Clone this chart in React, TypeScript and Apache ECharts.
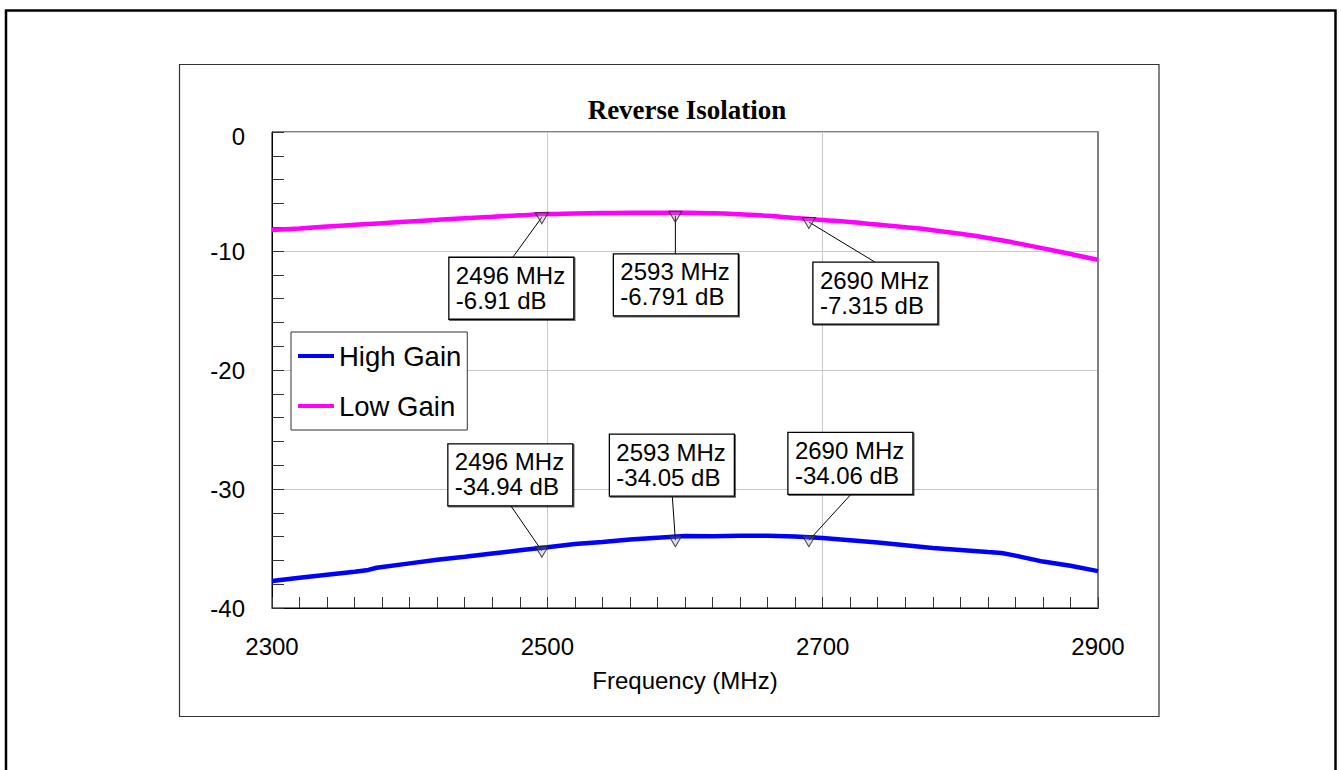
import React, { useEffect, useRef } from "react";
import * as echarts from "echarts";

// ---------- data ----------
const lowFreq = [2300, 2320, 2340, 2360, 2380, 2400, 2420, 2440, 2460, 2480, 2500, 2520, 2540, 2560, 2580, 2600, 2620, 2640, 2660, 2680, 2700, 2720, 2740, 2760, 2780, 2800, 2820, 2840, 2860, 2880, 2900];
const lowGain = [-8.24, -8.1, -7.95, -7.8, -7.66, -7.52, -7.38, -7.24, -7.12, -7.0, -6.9, -6.85, -6.81, -6.79, -6.78, -6.79, -6.83, -6.92, -7.04, -7.23, -7.4, -7.57, -7.78, -8.0, -8.25, -8.55, -8.9, -9.32, -9.78, -10.25, -10.75];

const highFreq = [2300, 2320, 2340, 2360, 2370, 2376, 2400, 2420, 2440, 2460, 2480, 2500, 2520, 2540, 2560, 2580, 2600, 2620, 2640, 2660, 2680, 2700, 2720, 2740, 2760, 2780, 2800, 2820, 2830, 2840, 2860, 2880, 2900];
const highGain = [-37.73, -37.45, -37.2, -36.95, -36.8, -36.62, -36.25, -35.95, -35.7, -35.42, -35.15, -34.9, -34.62, -34.45, -34.25, -34.1, -33.95, -33.97, -33.92, -33.93, -34.0, -34.12, -34.3, -34.5, -34.72, -34.95, -35.12, -35.3, -35.38, -35.6, -36.1, -36.45, -36.9];

const markerFreqs = [2496, 2593, 2690];
const lowMarkerVals = [-6.91, -6.791, -7.315];
const highMarkerVals = [-34.94, -34.05, -34.06];

const seriesNames = ["High Gain", "Low Gain"];
const titleText = "Reverse Isolation";
const xAxisName = "Frequency (MHz)";

// annotation box offsets relative to marker pixel (layout only)
const lowBoxOffsets = [[-93, 43], [-62, 41], [4, 43]];
const lowLineAnchor = [[-29, 43], [0, 41], [66, 43]];
const highBoxOffsets = [[-94, -104], [-66, -103], [-21, -105]];
const highLineAnchor = [[-31, -42], [-3, -40], [43, -44]];

const FONT = "Liberation Sans, Arial, sans-serif";

export default function App() {
  const ref = useRef<HTMLDivElement>(null);
  useEffect(() => {
    document.body.style.margin = "0";
    const chart = echarts.init(ref.current!, null, { renderer: "svg" });
    const option: any = {
      animation: false,
      backgroundColor: "#fff",
      title: {
        text: titleText,
        left: 687,
        top: 96,
        padding: 0,
        textAlign: "center",
        textStyle: { fontFamily: "Liberation Serif, Times New Roman, serif", fontWeight: "bold", fontSize: 27, color: "#000" },
      },
      legend: {
        data: seriesNames,
        orient: "vertical",
        left: 291,
        top: 332,
        padding: [9, 6, 9, 7],
        itemGap: 20,
        itemWidth: 36,
        itemHeight: 4,
        icon: "rect",
        backgroundColor: "#fff",
        borderColor: "#333",
        borderWidth: 1,
        textStyle: { fontFamily: FONT, fontSize: 27.5, color: "#000", lineHeight: 30 },
        z: 10,
      },
      grid: {
        left: 272,
        top: 132,
        width: 826,
        height: 476,
        show: true,
        borderColor: "#000",
        borderWidth: 1,
        backgroundColor: "transparent",
      },
      xAxis: {
        type: "value",
        min: 2300,
        max: 2900,
        interval: 200,
        name: xAxisName,
        nameLocation: "middle",
        nameGap: 60,
        nameTextStyle: { fontFamily: FONT, fontSize: 24, color: "#000" },
        axisLine: { show: true, onZero: false, lineStyle: { color: "#000", width: 1 } },
        axisTick: { show: true, inside: true, length: 11, lineStyle: { color: "#333" } },
        minorTick: { show: true, splitNumber: 10, length: 11, lineStyle: { color: "#333" } },
        splitLine: { show: true, lineStyle: { color: "#c8c8c8", width: 1 } },
        axisLabel: { fontFamily: FONT, fontSize: 24, color: "#000", margin: 26, formatter: (v: number) => String(v) },
      },
      yAxis: [
        {
          type: "value",
          min: -40,
          max: 0,
          interval: 10,
          axisLine: { show: true, onZero: false, lineStyle: { color: "#000", width: 1 } },
          axisTick: { show: true, inside: true, length: 12, lineStyle: { color: "#333" } },
          minorTick: { show: true, splitNumber: 5, length: 12, lineStyle: { color: "#333" } },
          splitLine: { show: true, lineStyle: { color: "#c8c8c8", width: 1 } },
          axisLabel: {
            fontFamily: FONT,
            fontSize: 24,
            color: "#000",
            margin: 27,
            formatter: (v: number) => (v === 0 ? "{z|0}" : String(v)),
            rich: { z: { fontFamily: FONT, fontSize: 24, color: "#000", padding: [9, 0, 0, 0] } },
          },
        },
        {
          type: "value",
          min: -40,
          max: 0,
          interval: 10,
          position: "right",
          axisLine: { show: true, onZero: false, lineStyle: { color: "#808080", width: 2 } },
          axisTick: { show: false },
          axisLabel: { show: false },
          splitLine: { show: false },
        },
      ],
      series: [
        {
          name: seriesNames[0],
          type: "line",
          data: highFreq.map((f, i) => [f, highGain[i]]),
          showSymbol: false,
          smooth: false,
          lineStyle: { color: "#0000ff", width: 4.5 },
          itemStyle: { color: "#0000ff" },
          z: 3,
        },
        {
          name: seriesNames[1],
          type: "line",
          data: lowFreq.map((f, i) => [f, lowGain[i]]),
          showSymbol: false,
          smooth: true,
          lineStyle: { color: "#ff00ff", width: 4.5 },
          itemStyle: { color: "#ff00ff" },
          z: 3,
        },
        {
          name: "High markers",
          type: "scatter",
          data: markerFreqs.map((f, i) => [f, highMarkerVals[i]]),
          symbol: "triangle",
          symbolRotate: 180,
          symbolSize: [13, 11],
          symbolOffset: [0, 4],
          itemStyle: { color: "rgba(150,150,150,0.35)", borderColor: "#222", borderWidth: 1 },
          z: 6,
        },
        {
          name: "Low markers",
          type: "scatter",
          data: markerFreqs.map((f, i) => [f, lowMarkerVals[i]]),
          symbol: "triangle",
          symbolRotate: 180,
          symbolSize: [13, 11],
          symbolOffset: [0, 4],
          itemStyle: { color: "rgba(150,150,150,0.35)", borderColor: "#222", borderWidth: 1 },
          z: 6,
        },
      ],
    };
    chart.setOption(option);

    const graphics: any[] = [
      {
        type: "rect",
        shape: { x: 6, y: 10.5, width: 1329.5, height: 800 },
        style: { fill: "none", stroke: "#000", lineWidth: 2.5 },
        silent: true,
        z: 0,
      },
      {
        type: "rect",
        shape: { x: 179.5, y: 64.5, width: 979.5, height: 652 },
        style: { fill: "none", stroke: "#333", lineWidth: 1.2 },
        silent: true,
        z: 0,
      },
    ];

    const addAnnots = (vals: number[], offsets: number[][], anchors: number[][]) => {
      markerFreqs.forEach((f, i) => {
        const p = chart.convertToPixel({ gridIndex: 0 }, [f, vals[i]]) as number[];
        const bx = p[0] + offsets[i][0];
        const by = p[1] + offsets[i][1];
        const ax = p[0] + anchors[i][0];
        const ay = p[1] + anchors[i][1];
        graphics.push({
          type: "line",
          shape: { x1: ax, y1: ay, x2: p[0], y2: p[1] + 3 },
          style: { stroke: "#000", lineWidth: 1 },
          silent: true,
          z: 5,
        });
        graphics.push({
          type: "rect",
          shape: { x: bx, y: by, width: 125, height: 62 },
          style: { fill: "#fff", stroke: "#000", lineWidth: 1.3, shadowColor: "rgba(0,0,0,0.6)", shadowOffsetX: 1, shadowOffsetY: 1, shadowBlur: 0 },
          silent: true,
          z: 20,
        });
        graphics.push({
          type: "text",
          style: { x: bx + 7, y: by + 18, text: `${f} MHz`, font: `24px ${FONT}`, fill: "#000", verticalAlign: "middle", textVerticalAlign: "middle" },
          silent: true,
          z: 21,
        });
        graphics.push({
          type: "text",
          style: { x: bx + 7, y: by + 43, text: `${vals[i]} dB`, font: `24px ${FONT}`, fill: "#000", verticalAlign: "middle", textVerticalAlign: "middle" },
          silent: true,
          z: 21,
        });
      });
    };
    addAnnots(lowMarkerVals, lowBoxOffsets, lowLineAnchor);
    addAnnots(highMarkerVals, highBoxOffsets, highLineAnchor);

    chart.setOption({ graphic: graphics });

    return () => chart.dispose();
  }, []);
  return <div ref={ref} style={{ position: "fixed", left: 0, top: 0, width: 1341, height: 770 }} />;
}
